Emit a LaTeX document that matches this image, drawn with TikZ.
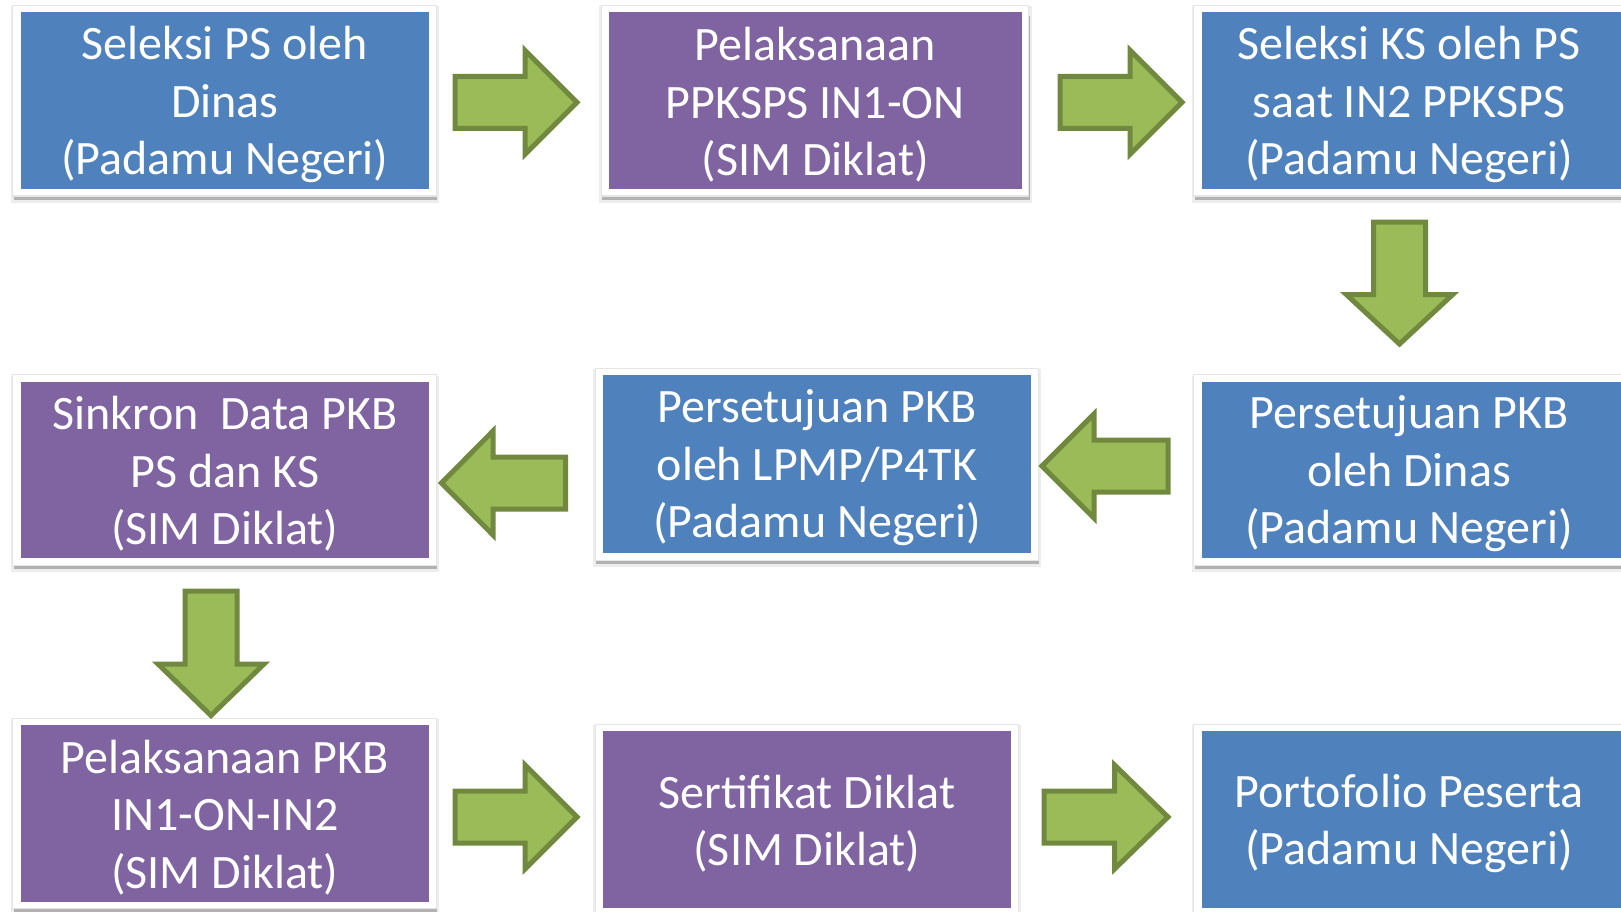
\documentclass[tikz,border=0pt]{standalone}
\usepackage{fontspec}
\setmainfont{Carlito}
\usetikzlibrary{calc}
\definecolor{cblue}{HTML}{4F81BD}
\definecolor{cpurple}{HTML}{8064A2}
\definecolor{cgreen}{HTML}{9BBB59}
\definecolor{cgreenline}{HTML}{71893F}
\tikzset{
  boxtext/.style={text=white, align=center, inner sep=0pt,
    font=\fontsize{48}{57.5}\selectfont},
  barrow/.style={fill=cgreen, draw=cgreenline, line width=5pt, line join=miter},
}
% #1 name, #2 x1, #3 y1, #4 x2, #5 y2, #6 colour, #7 text centre x, #8 text
\newcommand\procbox[8]{%
  \fill[black!7] (#2-10,#3-6) rectangle (#4+10,#5+14);
  \fill[black!30] (#2-7,#3+4) rectangle (#4+8,#5+11);
  \filldraw[draw=black!10, fill=white, line width=1pt] (#2-8,#3-7) rectangle (#4+7,#5+7);
  \fill[#6] (#2,#3) rectangle (#4,#5);
  \node[boxtext] (#1) at (#7,{(#3+#5)/2+4}) {#8};
}
% horizontal block arrow: tail x, head-base x, tip x, centre y
\newcommand\harrow[4]{%
  \draw[barrow] (#1,#4-26) -- (#2,#4-26) -- (#2,#4-52) -- (#3,#4)
    -- (#2,#4+52) -- (#2,#4+26) -- (#1,#4+26) -- cycle;
}
% vertical block arrow: tail y, head-base y, tip y, centre x
\newcommand\varrow[4]{%
  \draw[barrow] (#4-26,#1) -- (#4-26,#2) -- (#4-53,#2) -- (#4,#3)
    -- (#4+53,#2) -- (#4+26,#2) -- (#4+26,#1) -- cycle;
}
\begin{document}
\begin{tikzpicture}[x=1pt,y=-1pt]
\clip (0,0) rectangle (1621,912);
\fill[white] (0,0) rectangle (1621,912);

% row 1
\procbox{A}{20.7}{12.4}{429}{189}{cblue}{224.8}{Seleksi PS oleh\\Dinas\\(Padamu Negeri)}
\procbox{B}{609}{12.4}{1021.6}{189}{cpurple}{815.3}{Pelaksanaan\\PPKSPS IN1-ON\\(SIM Diklat)}
\procbox{C}{1201.5}{12.4}{1650}{189}{cblue}{1409}{Seleksi KS oleh PS\\saat IN2 PPKSPS\\(Padamu Negeri)}

% row 2
\procbox{D}{20.7}{381.5}{429}{558}{cpurple}{224.8}{Sinkron~ Data PKB\\PS dan KS\\(SIM Diklat)}
\procbox{E}{603}{375}{1031}{553}{cblue}{817}{Persetujuan PKB\\oleh LPMP/P4TK\\(Padamu Negeri)}
\procbox{F}{1201.5}{381.5}{1650}{558}{cblue}{1409}{Persetujuan PKB\\oleh Dinas\\(Padamu Negeri)}

% row 3
\procbox{G}{20.7}{725}{429}{901.6}{cpurple}{224.8}{Pelaksanaan PKB\\IN1-ON-IN2\\(SIM Diklat)}
\procbox{H}{603}{731}{1011}{908}{cpurple}{807}{Sertifikat Diklat\\(SIM Diklat)}
\procbox{I}{1201.5}{731}{1650}{908}{cblue}{1409}{Portofolio Peserta\\(Padamu Negeri)}

% block arrows
\harrow{455}{525}{577}{102.3}
\harrow{1060}{1130}{1182}{102.3}
\varrow{222}{294.7}{344}{1399.5}
\harrow{1168}{1094}{1042}{466}
\harrow{565.5}{493}{441.5}{483}
\varrow{591}{664}{715.5}{211}
\harrow{455}{525}{577}{817}
\harrow{1044}{1114.5}{1168}{817}
\end{tikzpicture}
\end{document}
